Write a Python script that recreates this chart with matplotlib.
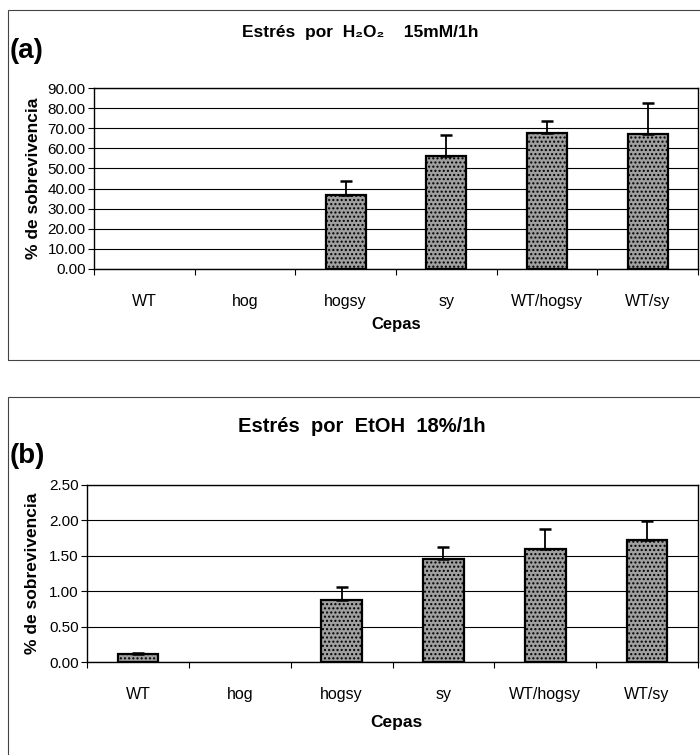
import matplotlib
matplotlib.use("Agg")
import matplotlib.pyplot as plt
from matplotlib.patches import Rectangle
import numpy as np

plt.rcParams['font.family'] = ['Liberation Sans', 'DejaVu Sans']

cepas = ["WT", "hog", "hogsy", "sy", "WT/hogsy", "WT/sy"]

# panel (a): H2O2 15mM/1h
h2o2_mean = [0.0, 0.0, 36.6, 56.4, 67.8, 67.0]
h2o2_err = [0.0, 0.0, 7.4, 10.3, 5.8, 15.6]
h2o2_ticks = [0, 10, 20, 30, 40, 50, 60, 70, 80, 90]

# panel (b): EtOH 18%/1h
etoh_mean = [0.11, 0.0, 0.87, 1.46, 1.60, 1.73]
etoh_err = [0.02, 0.0, 0.19, 0.17, 0.28, 0.26]
etoh_ticks = [0.0, 0.5, 1.0, 1.5, 2.0, 2.5]

W, H = 700, 755
fig = plt.figure(figsize=(7, 7.55), dpi=100)


def fx(px):
    return px / W


def fy(py):
    return 1 - py / H


def panel(rect, means, errs, ticks, ymax):
    ax = fig.add_axes(rect)
    x = np.arange(len(cepas))
    means = np.array(means)
    errs = np.array(errs)
    # bars with value 0 leave no outline, like the original
    lw = [1.6 if m > 0 else 0 for m in means]
    ax.bar(x, means, width=0.4, color="#a0a0a0", edgecolor="black",
           linewidth=lw, hatch="....", zorder=3)
    ok = errs > 0
    ax.errorbar(x[ok], means[ok], yerr=[np.zeros(ok.sum()), errs[ok]], fmt="none",
                ecolor="black", elinewidth=1.3, capsize=4, capthick=1.8, zorder=4)
    ax.set_xlim(-0.5, len(cepas) - 0.5)
    ax.set_ylim(0, ymax)
    ax.set_yticks(ticks)
    ax.set_yticklabels([f"{t:.2f}" for t in ticks], fontsize=11)
    ax.yaxis.grid(True, color="black", linewidth=0.8, zorder=0)
    ax.set_axisbelow(True)
    ax.set_xticks(x)
    ax.set_xticklabels(cepas, fontsize=11.5)
    ax.tick_params(axis="x", length=0, pad=18)
    ax.set_xticks(np.arange(len(cepas) + 1) - 0.5, minor=True)
    ax.tick_params(axis="x", which="minor", length=4, direction="out", width=0.8)
    ax.tick_params(axis="y", length=4, width=0.8, pad=2)
    for s in ax.spines.values():
        s.set_linewidth(1.0)
    return ax


# outer boxes around each panel
fig.patches.append(Rectangle((fx(8), fy(360)), fx(700), fy(10) - fy(360),
                             transform=fig.transFigure, fill=False,
                             edgecolor="#444444", linewidth=0.8))
fig.patches.append(Rectangle((fx(8), -0.02), fx(700), fy(397) + 0.02,
                             transform=fig.transFigure, fill=False,
                             edgecolor="#444444", linewidth=0.8))

panel([fx(94), fy(269), fx(698 - 94), fy(88) - fy(269)],
      h2o2_mean, h2o2_err, h2o2_ticks, 90)
panel([fx(87), fy(662), fx(698 - 87), fy(485) - fy(662)],
      etoh_mean, etoh_err, etoh_ticks, 2.5)

# titles and labels
fig.text(fx(360), fy(33), "Estrés  por  H₂O₂    15mM/1h", ha="center", va="center",
         fontsize=12.5, fontweight="bold")
fig.text(fx(362), fy(427), "Estrés  por  EtOH  18%/1h", ha="center", va="center",
         fontsize=14.5, fontweight="bold")
fig.text(fx(10), fy(51), "(a)", ha="left", va="center", fontsize=20, fontweight="bold")
fig.text(fx(10), fy(456), "(b)", ha="left", va="center", fontsize=20, fontweight="bold")
fig.text(fx(34), fy(178), "% de sobrevivencia", rotation=90, ha="center", va="center",
         fontsize=12.5, fontweight="bold")
fig.text(fx(33), fy(573), "% de sobrevivencia", rotation=90, ha="center", va="center",
         fontsize=12.5, fontweight="bold")
fig.text(fx(396), fy(325), "Cepas", ha="center", va="center", fontsize=12, fontweight="bold")
fig.text(fx(396), fy(723), "Cepas", ha="center", va="center", fontsize=12.5, fontweight="bold")

fig.savefig("out.png", dpi=100)
